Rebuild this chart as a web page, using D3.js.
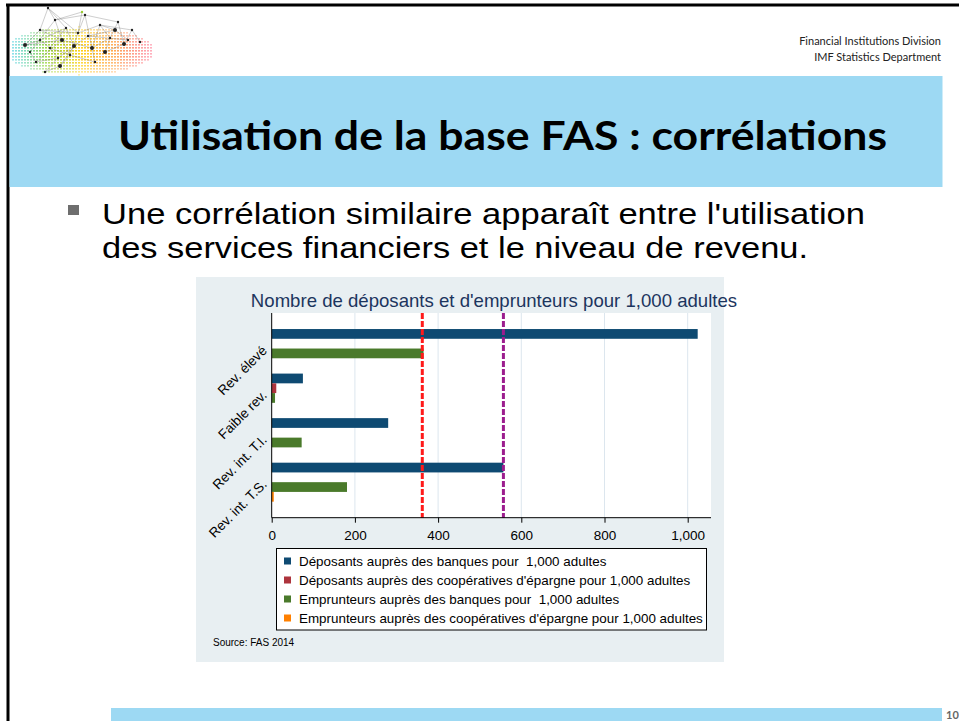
<!DOCTYPE html>
<html>
<head>
<meta charset="utf-8">
<script src="https://cdn.jsdelivr.net/npm/d3@7"></script>
<style>
  html, body { margin: 0; padding: 0; background: #fff; }
  svg { display: block; }
</style>
</head>
<body>
<svg id="slide" width="959" height="721"></svg>
<script>
// data
const groups = ['Rev. élevé', 'Faible rev.', 'Rev. int. T.I.', 'Rev. int. T.S.'];
const seriesNames = [
  'Déposants auprès des banques pour  1,000 adultes',
  "Déposants auprès des coopératives d'épargne pour 1,000 adultes",
  'Emprunteurs auprès des banques pour  1,000 adultes',
  "Emprunteurs auprès des coopératives d'épargne pour 1,000 adultes"
];
const depBanques = [1024, 75, 280, 557];
const depCoop = [0, 11, 0, 0];
const empBanques = [365, 8, 72, 181];
const empCoop = [0, 0, 0, 5];
const refLines = [362, 557];
const xTicks = [0, 200, 400, 600, 800, 1000];

const seriesColors = ['#0e4a72', '#ad343d', '#4a7a2b', '#ff8000'];
const refColors = ['#ff1a1a', '#9c1d8e'];

const svg = d3.select('#slide');

svg.append('rect').attr('width', 959).attr('height', 721).attr('fill', '#fff');

// logo (decorative dot field + network)
const logo = svg.append('g').attr('class', 'logo');
const dotColor = d3.scaleLinear()
  .domain([12, 45, 80, 115, 150])
  .range(['#19c3d6', '#8fd12a', '#ffd21a', '#ff9a3c', '#ff3b5c']);
for (let x = 12; x <= 150; x += 3) {
  for (let y = 26; y <= 74; y += 3) {
    const dx = (x - 78) / 76, dy = (y - 50) / 24;
    const r = dx * dx + dy * dy;
    if (r > 1) continue;
    logo.append('rect')
      .attr('x', x).attr('y', y).attr('width', 2).attr('height', 1.6)
      .attr('fill', dotColor(x))
      .attr('opacity', 1 - r * 0.65);
  }
}
const nodes = [[25,45],[40,30],[48,8],[55,20],[62,40],[70,55],[78,33],[85,15],[92,48],[100,25],
  [110,38],[118,22],[124,44],[132,30],[140,42],[36,62],[60,66],[30,52],[95,62],[82,12],[105,52],[45,72],
  [50,48],[66,28],[74,46],[58,58],[88,36],[128,40],[115,30],[40,40]];
const links = [[0,1],[1,2],[2,3],[3,4],[4,5],[5,6],[6,7],[7,8],[8,9],[9,10],[10,11],[11,12],[12,13],
  [13,14],[0,4],[1,6],[3,7],[4,8],[6,9],[8,10],[15,4],[16,5],[17,3],[18,8],[19,6],[20,12],[21,16],
  [2,6],[5,18],[9,13],[1,4],[17,15],[3,19],[10,20],[7,11],[22,23],[23,24],[24,25],[25,22],[26,27],
  [27,28],[28,26],[29,22],[29,23],[22,5],[24,26],[25,15],[0,29],[2,23],[28,9],[21,25],[16,24]];
logo.selectAll('line').data(links).join('line')
  .attr('x1', d => nodes[d[0]][0]).attr('y1', d => nodes[d[0]][1])
  .attr('x2', d => nodes[d[1]][0]).attr('y2', d => nodes[d[1]][1])
  .attr('stroke', '#777').attr('stroke-width', 0.5).attr('opacity', 0.7);
logo.selectAll('circle').data(nodes).join('circle')
  .attr('cx', d => d[0]).attr('cy', d => d[1])
  .attr('r', (d, i) => i % 4 === 0 ? 2 : 1.2)
  .attr('fill', (d, i) => i === 19 ? '#9acd32' : '#222');

svg.append('line').attr('x1', 6).attr('x2', 959).attr('y1', 5).attr('y2', 5)
  .attr('stroke', '#000').attr('stroke-width', 3);
svg.append('line').attr('x1', 8).attr('x2', 8).attr('y1', 4).attr('y2', 721)
  .attr('stroke', '#000').attr('stroke-width', 3);

// header
svg.append('text').attr('x', 941).attr('y', 45).attr('text-anchor', 'end')
  .style('font', '11px Lato').attr('fill', '#222').text('Financial Institutions Division');
svg.append('text').attr('x', 941).attr('y', 61).attr('text-anchor', 'end')
  .style('font', '11px Lato').attr('fill', '#222').text('IMF Statistics Department');

svg.append('rect').attr('x', 9.5).attr('y', 76).attr('width', 933).attr('height', 111)
  .attr('fill', '#9dd9f3');
svg.append('text').attr('x', 118).attr('y', 150)
  .attr('textLength', 769).attr('lengthAdjust', 'spacingAndGlyphs')
  .style('font', 'bold 41px Lato').attr('fill', '#000')
  .text('Utilisation de la base FAS : corrélations');

// bullet
svg.append('rect').attr('x', 68).attr('y', 205).attr('width', 11).attr('height', 10).attr('fill', '#6e6e6e');
svg.append('text').attr('x', 102).attr('y', 224)
  .attr('textLength', 763).attr('lengthAdjust', 'spacingAndGlyphs')
  .style('font', '30px "Liberation Sans"').attr('fill', '#000')
  .text("Une corrélation similaire apparaît entre l'utilisation");
svg.append('text').attr('x', 102).attr('y', 258)
  .attr('textLength', 706).attr('lengthAdjust', 'spacingAndGlyphs')
  .style('font', '30px "Liberation Sans"').attr('fill', '#000')
  .text('des services financiers et le niveau de revenu.');

// footer
svg.append('rect').attr('x', 111).attr('y', 708).attr('width', 831).attr('height', 13).attr('fill', '#9dd9f3');
svg.append('text').attr('x', 946).attr('y', 719)
  .style('font', 'bold 11px Lato').attr('fill', '#666').text('10');

// chart panel
const chart = svg.append('g').attr('class', 'chart');
chart.append('rect').attr('x', 196).attr('y', 277).attr('width', 528).attr('height', 385)
  .attr('fill', '#e8eff2');

const plot = { left: 271.7, right: 711, top: 313, bottom: 517.7 };

const x = d3.scaleLinear().domain([0, 1000]).range([plot.left, 687.7]);
const y0 = d3.scaleBand().domain(groups).range([plot.top, plot.bottom])
  .paddingInner(0.125).paddingOuter(0.36);
const y1 = d3.scaleBand().domain(d3.range(4)).range([0, y0.bandwidth()]);

chart.append('rect').attr('x', plot.left).attr('y', plot.top)
  .attr('width', plot.right - plot.left).attr('height', plot.bottom - plot.top).attr('fill', '#fff');

chart.append('text').attr('x', 494).attr('y', 307).attr('text-anchor', 'middle')
  .style('font', '18.6px "Liberation Sans", Arial').attr('fill', '#1c355e')
  .text("Nombre de déposants et d'emprunteurs pour 1,000 adultes");

// grid
chart.append('g').selectAll('line').data(xTicks.slice(1)).join('line')
  .attr('x1', d => x(d)).attr('x2', d => x(d))
  .attr('y1', plot.top).attr('y2', plot.bottom)
  .attr('stroke', '#dce6ee').attr('stroke-width', 1);

// bars
const series = [depBanques, depCoop, empBanques, empCoop];
const rows = [];
groups.forEach((g, gi) => series.forEach((s, si) => rows.push({ g, si, v: s[gi] })));
chart.append('g').selectAll('rect').data(rows.filter(d => d.v > 0)).join('rect')
  .attr('x', x(0))
  .attr('y', d => y0(d.g) + y1(d.si))
  .attr('width', d => x(d.v) - x(0))
  .attr('height', y1.bandwidth())
  .attr('fill', d => seriesColors[d.si]);

// reference lines
chart.append('g').selectAll('line').data(refLines).join('line')
  .attr('x1', d => x(d)).attr('x2', d => x(d))
  .attr('y1', plot.top).attr('y2', plot.bottom)
  .attr('stroke', (d, i) => refColors[i]).attr('stroke-width', 3)
  .attr('stroke-dasharray', '6,2');

// axes
const xAxis = chart.append('g').attr('transform', `translate(0,${plot.bottom})`)
  .call(d3.axisBottom(x).tickValues(xTicks).tickSize(5).tickSizeOuter(0)
    .tickFormat(d3.format(',')));
xAxis.select('.domain').attr('d', `M${plot.left},0H${plot.right}`).attr('stroke', '#000');
xAxis.selectAll('.tick line').attr('stroke', '#000');
xAxis.selectAll('text').style('font', '13.5px "Liberation Sans", Arial').attr('fill', '#000').attr('dy', '1.05em');

chart.append('line').attr('x1', plot.left).attr('x2', plot.left)
  .attr('y1', plot.top).attr('y2', plot.bottom).attr('stroke', '#000');

chart.append('g').selectAll('text').data(groups).join('text')
  .attr('transform', d => `translate(${plot.left - 4},${y0(d) + y0.bandwidth() / 2 + 3}) rotate(-45)`)
  .attr('text-anchor', 'end')
  .style('font', '13.5px "Liberation Sans", Arial').attr('fill', '#000')
  .text(d => d);

// legend
const legend = chart.append('g');
legend.append('rect').attr('x', 276.5).attr('y', 548.5).attr('width', 430).attr('height', 81.5)
  .attr('fill', '#fff').attr('stroke', '#000').attr('stroke-width', 1);
const legY = d3.scalePoint().domain(d3.range(4)).range([561, 618]);
legend.selectAll('rect.key').data(seriesNames).join('rect').attr('class', 'key')
  .attr('x', 284).attr('y', (d, i) => legY(i) - 3.5).attr('width', 7).attr('height', 7)
  .attr('fill', (d, i) => seriesColors[i]);
legend.selectAll('text').data(seriesNames).join('text')
  .attr('x', 299).attr('y', (d, i) => legY(i) + 4.5)
  .style('font', '13.4px "Liberation Sans", Arial').attr('fill', '#000')
  .style('white-space', 'pre').attr('xml:space', 'preserve')
  .text(d => d);

chart.append('text').attr('x', 213).attr('y', 646)
  .style('font', '10px "Liberation Sans", Arial').attr('fill', '#000')
  .text('Source: FAS 2014');
</script>
</body>
</html>
